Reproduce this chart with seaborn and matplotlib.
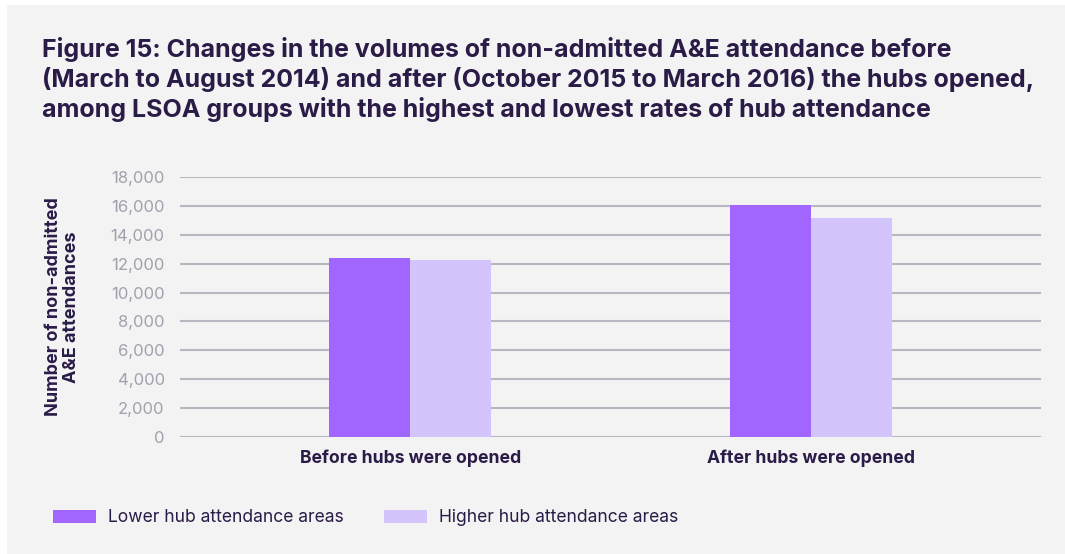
import pandas as pd
import matplotlib.pyplot as plt
import seaborn as sns
from matplotlib.patches import Rectangle, Patch
from matplotlib.ticker import FuncFormatter

# values
periods = ['Before hubs were opened', 'After hubs were opened']
lower_hub = [12400, 16050]
higher_hub = [12250, 15150]
series_names = ['Lower hub attendance areas', 'Higher hub attendance areas']
y_ticks = list(range(0, 18001, 2000))

title = ('Figure 15: Changes in the volumes of non-admitted A&E attendance before\n'
         '(March to August 2014) and after (October 2015 to March 2016) the hubs opened,\n'
         'among LSOA groups with the highest and lowest rates of hub attendance')
y_label = 'Number of non-admitted\nA&E attendances'

BG = '#f3f3f3'
DARK = '#2b1b47'
GREY_TXT = '#a0a1ad'
GRID = '#b6b7c0'
palette = {series_names[0]: '#a066ff', series_names[1]: '#d3c4fb'}

df = pd.DataFrame({
    'period': periods * 2,
    'value': lower_hub + higher_hub,
    'series': [series_names[0]] * 2 + [series_names[1]] * 2,
})

sns.set_style('white')
plt.rcParams['font.family'] = ['Inter', 'DejaVu Sans']

W, H = 1065, 554
fig = plt.figure(figsize=(W / 100, H / 100), dpi=100, facecolor='white')
# grey panel with a thin white margin at top and left, like the source
fig.patches.append(Rectangle((7 / W, 0), 1, 1 - 5 / H, transform=fig.transFigure,
                             facecolor=BG, edgecolor='none', zorder=-5))

ax = fig.add_axes([180 / W, 1 - 437 / H, (1041 - 180) / W, (437 - 177) / H])
ax.set_facecolor(BG)
ax.patch.set_alpha(0)

sns.barplot(data=df, x='period', y='value', hue='series', order=periods,
            hue_order=series_names, palette=palette, width=0.405,
            saturation=1, linewidth=0, ax=ax, legend=False, zorder=3)

ax.set_xlim(-0.575, 1.575)
ax.set_ylim(0, 18000)
ax.set_yticks(y_ticks)
ax.yaxis.set_major_formatter(FuncFormatter(lambda v, p: f'{int(v):,}'))
for y in y_ticks:
    ax.axhline(y, color=GRID, linewidth=1.5, zorder=1)
for s in ax.spines.values():
    s.set_visible(False)

ax.tick_params(axis='y', length=0, pad=11, labelsize=12, labelcolor=GREY_TXT)
ax.tick_params(axis='x', length=0, pad=9, labelsize=12.7, labelcolor=DARK)
for lbl in ax.get_xticklabels():
    lbl.set_fontweight('bold')
ax.set_xlabel('')
ax.set_ylabel(y_label, fontsize=13, fontweight='bold', color=DARK, labelpad=22,
              linespacing=1.1)

fig.text(42 / W, 1 - 37 / H, title, fontsize=18, fontweight='bold', color=DARK,
         va='top', ha='left', linespacing=1.25)

handles = [Patch(facecolor=palette[n], edgecolor='none') for n in series_names]
fig.legend(handles, series_names, loc='center left', bbox_to_anchor=(53 / W, 1 - 518 / H),
           ncol=2, frameon=False, fontsize=12.6, labelcolor=DARK, handlelength=2.45,
           handleheight=0.8, handletextpad=0.7, columnspacing=2.3,
           borderpad=0, borderaxespad=0)

fig.savefig('out.png', dpi=100, facecolor='white')
